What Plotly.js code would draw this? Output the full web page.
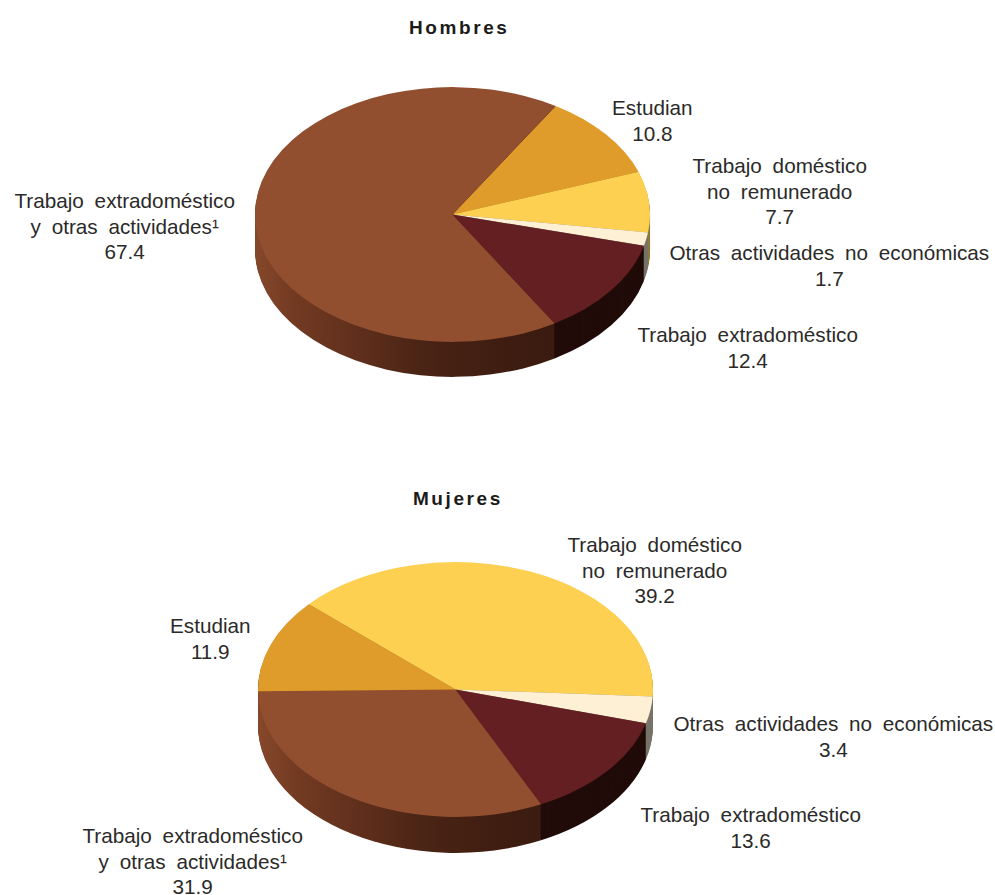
<!DOCTYPE html>
<html><head><meta charset="utf-8">
<script src="https://cdn.plot.ly/plotly-3.0.1.min.js"></script>
<style>html,body{margin:0;padding:0;background:#fff}#c{width:995px;height:895px}</style>
</head><body><div id="c"></div>
<script>
// Data
const hombresCats = ['Estudian','Trabajo doméstico no remunerado','Otras actividades no económicas','Trabajo extradoméstico','Trabajo extradoméstico y otras actividades'];
const hombresVals = [10.8,7.7,1.7,12.4,67.4];
const mujeresCats = ['Trabajo doméstico no remunerado','Otras actividades no económicas','Trabajo extradoméstico','Trabajo extradoméstico y otras actividades','Estudian'];
const mujeresVals = [39.2,3.4,13.6,31.9,11.9];
const topColors = {'Estudian':'#e09c2b','Trabajo doméstico no remunerado':'#fdd052','Otras actividades no económicas':'#fdf0d4','Trabajo extradoméstico':'#641f22','Trabajo extradoméstico y otras actividades':'#914f30'};
const wallColors = {'Estudian':'#8a5f1a','Trabajo doméstico no remunerado':'#8f7a3a','Otras actividades no económicas':'#77746a','Trabajo extradoméstico':'#210c09','Trabajo extradoméstico y otras actividades':'url(#brownWall)'};
const hombresLabels = [
 {t:'Estudian<br>10.8',x:652,y:120.5},
 {t:'Trabajo doméstico<br>no remunerado<br>7.7',x:779,y:192.5},
 {t:'Otras actividades no económicas<br>1.7',x:829,y:266},
 {t:'Trabajo extradoméstico<br>12.4',x:747,y:348},
 {t:'Trabajo extradoméstico<br>y otras actividades¹<br>67.4',x:124,y:228}
];
const mujeresLabels = [
 {t:'Trabajo doméstico<br>no remunerado<br>39.2',x:654,y:571},
 {t:'Estudian<br>11.9',x:210,y:639},
 {t:'Otras actividades no económicas<br>3.4',x:833,y:736.5},
 {t:'Trabajo extradoméstico<br>13.6',x:750,y:828},
 {t:'Trabajo extradoméstico<br>y otras actividades¹<br>31.9',x:192,y:862}
];
const W=995,H=895,R=197.5,SQ=0.645,LINE=25.5;
const charts=[
 {cats:hombresCats,vals:hombresVals,rot:31.5,cx:452.5,cy:214.5,depth:35},
 {cats:mujeresCats,vals:mujeresVals,rot:-48,cx:455.5,cy:689.5,depth:36}
];
const data=[],xf=[];
charts.forEach((c,ci)=>{
  const dom={x:[(c.cx-R)/W,(c.cx+R)/W],y:[1-(c.cy+R)/H,1-(c.cy-R)/H]};
  for(let d=c.depth;d>=0;d--){
    const cols=c.cats.map(n=>d===0?topColors[n]:wallColors[n]);
    data.push({type:'pie',labels:c.cats,values:c.vals,sort:false,direction:'clockwise',rotation:c.rot,
      domain:dom,textinfo:'none',hoverinfo:'none',showlegend:false,
      marker:{colors:cols.map(v=>v.startsWith('url')?'#5a2c1a':v),line:{width:0}}});
    xf.push({cy:c.cy,d:d,cols:cols,ci:ci});
  }
});
const ann=[...hombresLabels,...mujeresLabels].map(l=>({text:l.t,x:l.x/W,y:1-l.y/H,xref:'paper',yref:'paper',showarrow:false,xanchor:'center',yanchor:'middle',align:'center',font:{family:'Liberation Sans, Arial',size:20.7,color:'#2b2a29'}}));
[['Hombres',459,27.5],['Mujeres',458,498.5]].forEach(t=>ann.push({text:t[0],x:t[1]/W,y:1-t[2]/H,xref:'paper',yref:'paper',showarrow:false,xanchor:'center',yanchor:'middle',font:{family:'Liberation Sans, Arial',size:19,weight:'bold',color:'#1c1b1a'}}));
Plotly.newPlot('c',data,{width:W,height:H,margin:{l:0,r:0,t:0,b:0},paper_bgcolor:'#fff',annotations:ann,showlegend:false},{staticPlot:true,displayModeBar:false}).then(gd=>{
  const svg=gd.querySelector('svg.main-svg');
  const ns='http://www.w3.org/2000/svg';
  const defs=svg.querySelector('defs')||svg.insertBefore(document.createElementNS(ns,'defs'),svg.firstChild);
  charts.forEach((c,ci)=>{
    const g=document.createElementNS(ns,'linearGradient');
    g.id='brownWall'+ci;g.setAttribute('gradientUnits','userSpaceOnUse');
    g.setAttribute('x1',c.cx-R);g.setAttribute('x2',c.cx+R-90);g.setAttribute('y1',0);g.setAttribute('y2',0);
    [[0,'#86482b'],[0.13,'#723a22'],[0.3,'#63311d'],[0.55,'#4a2415'],[0.8,'#3f1d11'],[1,'#3a1b10']].forEach(s=>{
      const st=document.createElementNS(ns,'stop');st.setAttribute('offset',s[0]);st.setAttribute('stop-color',s[1]);g.appendChild(st);});
    defs.appendChild(g);
  });
  gd.querySelectorAll('.pielayer > g.trace').forEach((tr,i)=>{
    const m=xf[i];
    tr.setAttribute('transform','translate(0,'+(m.cy+m.d)+') scale(1,'+SQ+') translate(0,'+(-m.cy)+')');
    tr.querySelectorAll('g.slice path.surface').forEach((p,j)=>{
      const col=m.cols[j];
      if(col&&col.startsWith('url'))p.style.fill='url(#brownWall'+m.ci+')';
    });
  });
  gd.querySelectorAll('.annotation-text').forEach(t=>{
    const bold=/^(Hombres|Mujeres)$/.test(t.textContent);
    t.style.letterSpacing=bold?'2.6px':'0';
    t.style.wordSpacing=bold?'0':'5px';
    t.querySelectorAll('tspan.line').forEach((s,i)=>s.setAttribute('dy',i*LINE));
  });
});
</script></body></html>
